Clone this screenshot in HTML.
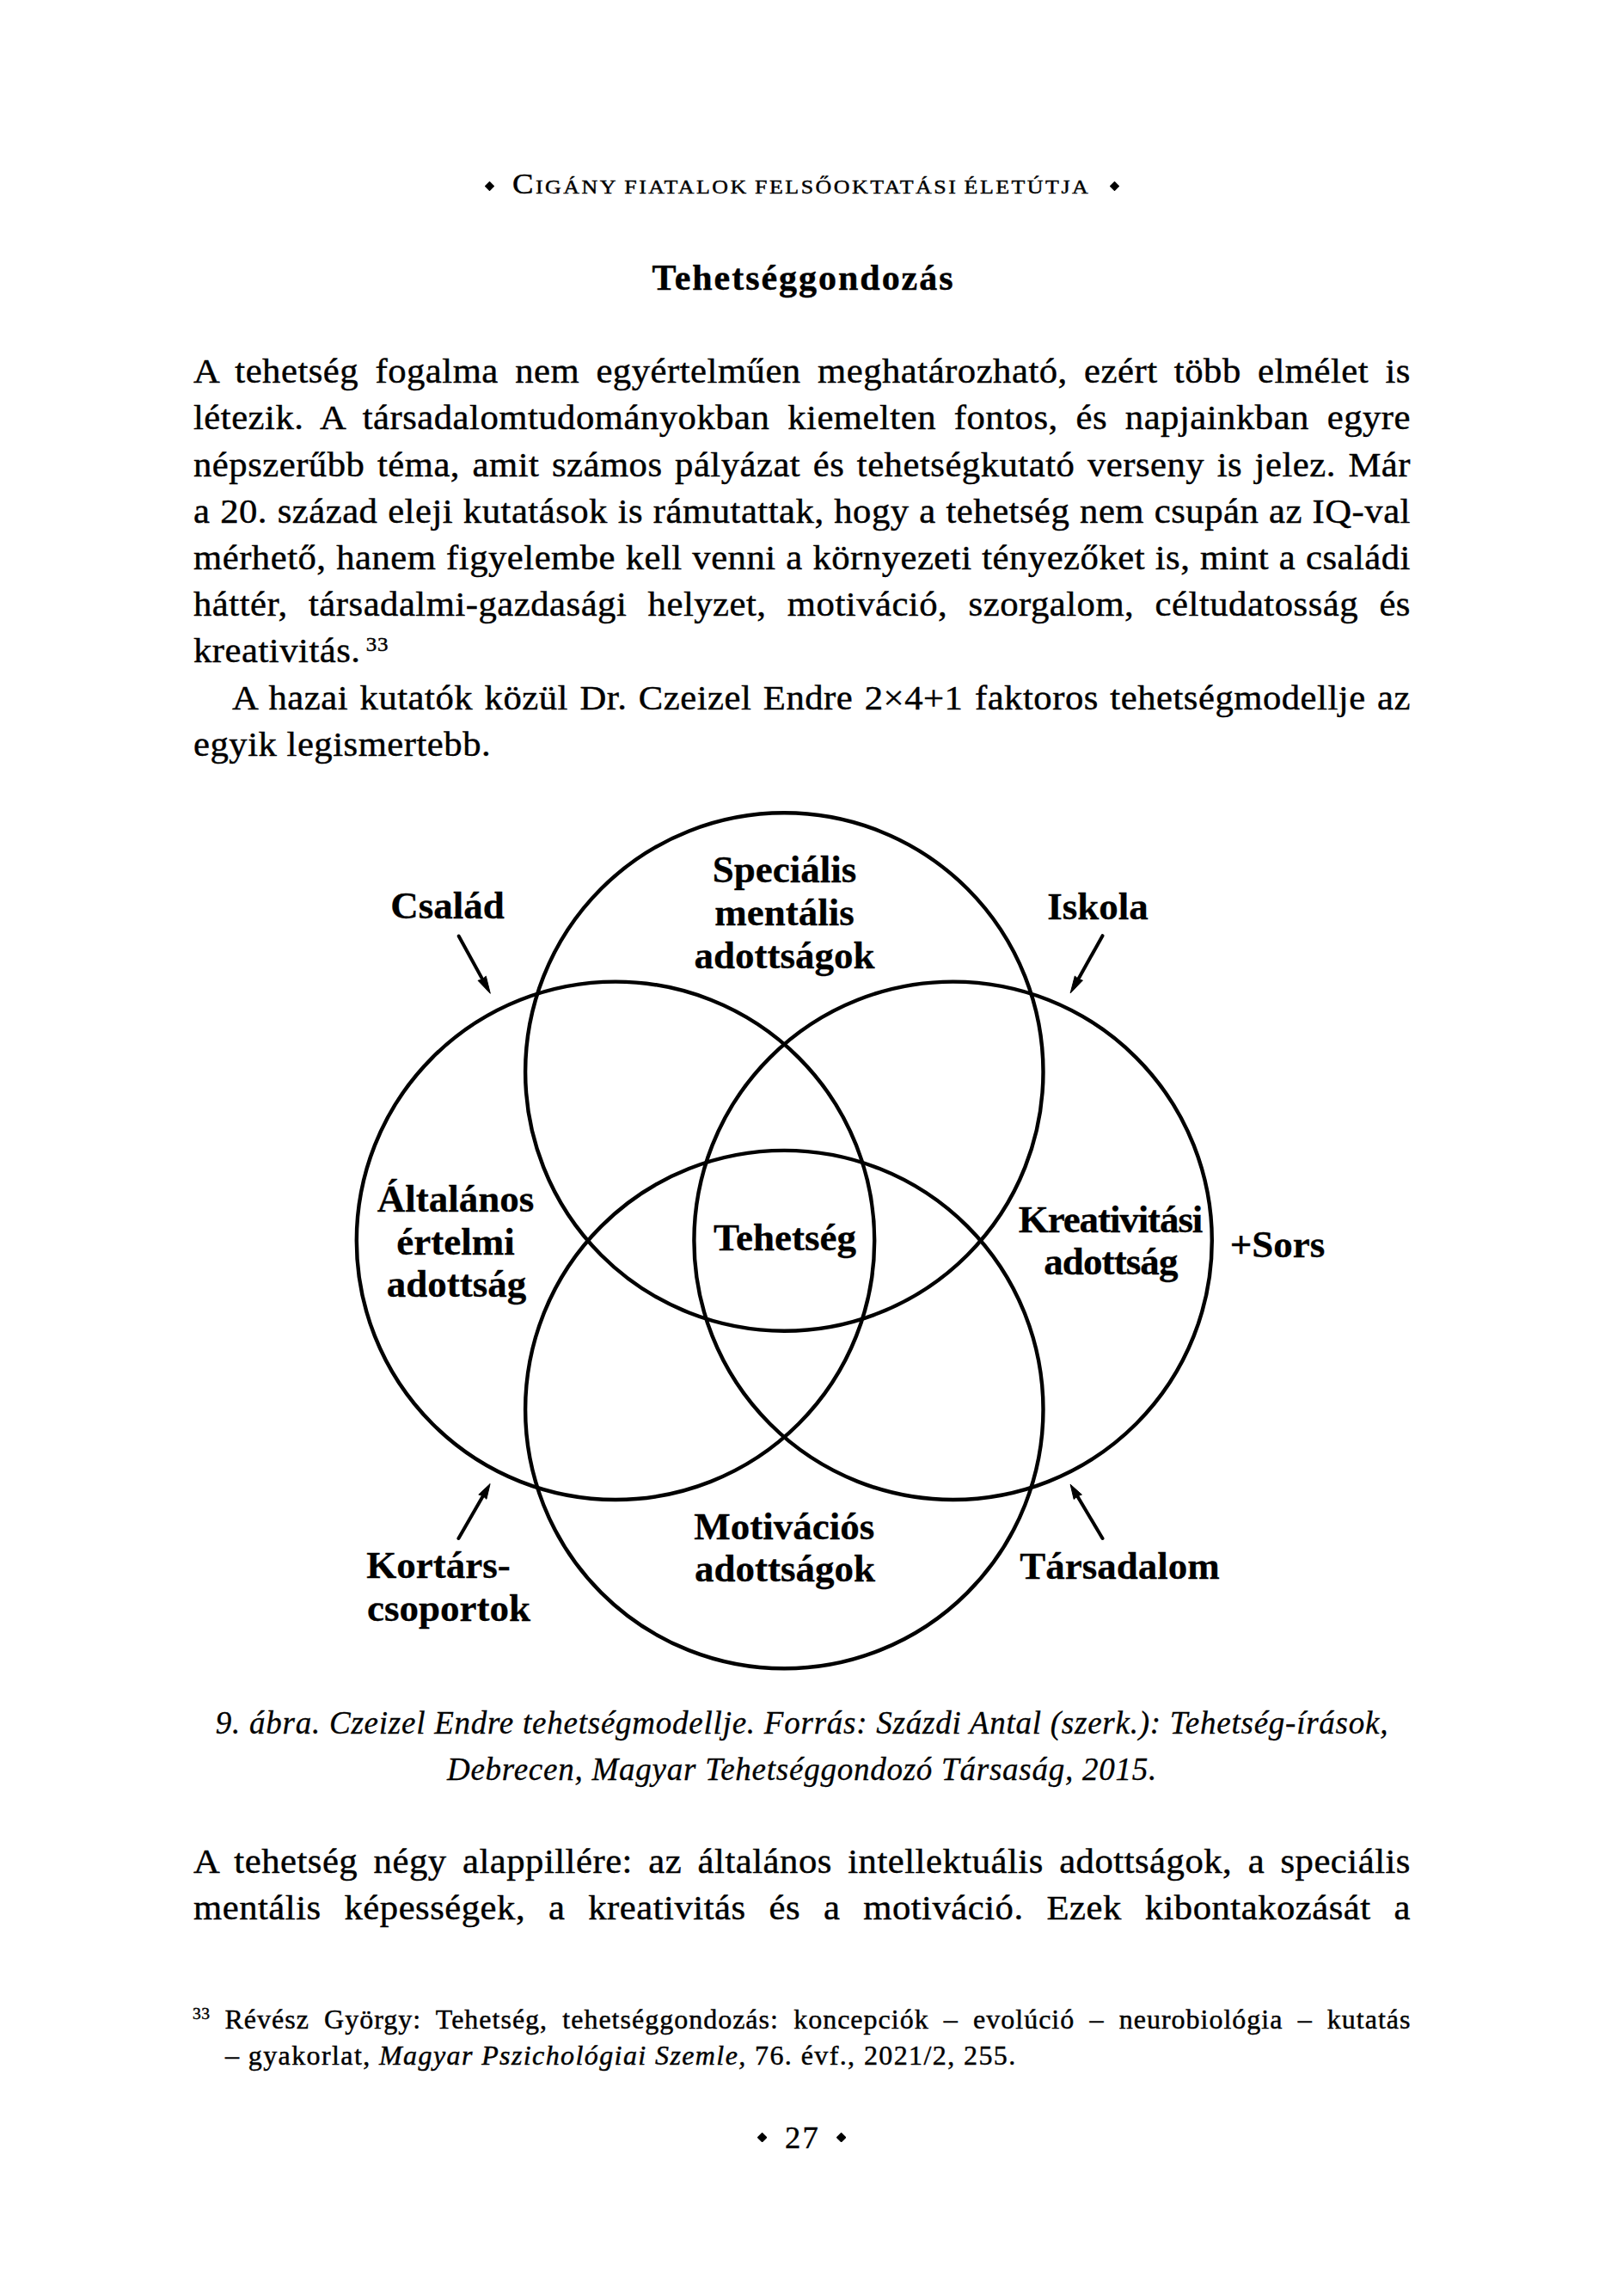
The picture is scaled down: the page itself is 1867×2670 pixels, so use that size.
<!DOCTYPE html>
<html><head><meta charset="utf-8"><title>page</title>
<style>
html,body{margin:0;padding:0;background:#fff;}
body{width:1867px;height:2670px;position:relative;overflow:hidden;font-family:"Liberation Serif",serif;color:#000;}
.s{position:absolute;line-height:0;font-family:"Liberation Serif",serif;-webkit-text-stroke:0.45px #000;}
.d{position:absolute;width:600px;text-align:center;line-height:0;font-family:"Liberation Serif",serif;font-weight:bold;font-size:45px;white-space:pre;color:#000;-webkit-text-stroke:0.3px #000;}
.dm{position:absolute;}
.dg{position:absolute;left:0;top:0;}
.sup{font-size:24px;position:relative;top:-13px;letter-spacing:0.8px;margin-left:6px;}
</style></head><body>
<svg class="dm" style="left:563.50px;top:211.00px" width="11.00" height="11.00" viewBox="-1 -1 2 2"><polygon points="0,-0.86 0.86,0 0,0.86 -0.86,0" fill="#000" stroke="#000" stroke-width="0.28" stroke-linejoin="round"/></svg>
<div class="s" style="left:596px;top:213.53px;font-size:34px;white-space:pre;letter-spacing:2.3px;font-variant:small-caps;word-spacing:-4px;transform-origin:0 0;transform:scaleX(1.08);">Cigány fiatalok felsőoktatási életútja</div>
<svg class="dm" style="left:1291.30px;top:210.90px" width="11.00" height="11.00" viewBox="-1 -1 2 2"><polygon points="0,-0.86 0.86,0 0,0.86 -0.86,0" fill="#000" stroke="#000" stroke-width="0.28" stroke-linejoin="round"/></svg>
<div class="s" style="left:758.5px;top:323.22px;font-size:42px;white-space:pre;letter-spacing:1.97px;font-weight:bold;">Tehetséggondozás</div>
<div class="s" style="left:225px;top:431.16px;font-size:41px;width:1361.54px;text-align:justify;text-align-last:justify;letter-spacing:0.5px;transform-origin:0 0;transform:scaleX(1.04);">A tehetség fogalma nem egyértelműen meghatározható, ezért több elmélet is</div>
<div class="s" style="left:225px;top:485.36px;font-size:41px;width:1361.54px;text-align:justify;text-align-last:justify;letter-spacing:0.5px;transform-origin:0 0;transform:scaleX(1.04);">létezik. A társadalomtudományokban kiemelten fontos, és napjainkban egyre</div>
<div class="s" style="left:225px;top:539.56px;font-size:41px;width:1361.54px;text-align:justify;text-align-last:justify;letter-spacing:0.5px;transform-origin:0 0;transform:scaleX(1.04);">népszerűbb téma, amit számos pályázat és tehetségkutató verseny is jelez. Már</div>
<div class="s" style="left:225px;top:593.76px;font-size:41px;width:1361.54px;text-align:justify;text-align-last:justify;letter-spacing:0.5px;transform-origin:0 0;transform:scaleX(1.04);">a 20. század eleji kutatások is rámutattak, hogy a tehetség nem csupán az IQ-val</div>
<div class="s" style="left:225px;top:647.96px;font-size:41px;width:1361.54px;text-align:justify;text-align-last:justify;letter-spacing:0.5px;transform-origin:0 0;transform:scaleX(1.04);">mérhető, hanem figyelembe kell venni a környezeti tényezőket is, mint a családi</div>
<div class="s" style="left:225px;top:702.16px;font-size:41px;width:1361.54px;text-align:justify;text-align-last:justify;letter-spacing:0.5px;transform-origin:0 0;transform:scaleX(1.04);">háttér, társadalmi-gazdasági helyzet, motiváció, szorgalom, céltudatosság és</div>
<div class="s" style="left:225px;top:756.36px;font-size:41px;white-space:pre;letter-spacing:0.5px;transform-origin:0 0;transform:scaleX(1.04);">kreativitás.<span class="sup">33</span></div>
<div class="s" style="left:270px;top:810.56px;font-size:41px;width:1318.27px;text-align:justify;text-align-last:justify;letter-spacing:0.5px;transform-origin:0 0;transform:scaleX(1.04);">A hazai kutatók közül Dr. Czeizel Endre 2×4+1 faktoros tehetségmodellje az</div>
<div class="s" style="left:225px;top:864.76px;font-size:41px;white-space:pre;letter-spacing:0.5px;transform-origin:0 0;transform:scaleX(1.04);">egyik legismertebb.</div>
<svg class="dg" width="1867" height="2670" viewBox="0 0 1867 2670">
<circle cx="912.3" cy="1246.5" r="301.2" fill="none" stroke="#000" stroke-width="4.4"/>
<circle cx="716.0" cy="1442.8" r="301.2" fill="none" stroke="#000" stroke-width="4.4"/>
<circle cx="1108.6" cy="1442.8" r="301.2" fill="none" stroke="#000" stroke-width="4.4"/>
<circle cx="912.3" cy="1639.1" r="301.2" fill="none" stroke="#000" stroke-width="4.4"/>
<line x1="533.6" y1="1088.5" x2="562.1" y2="1140.4" stroke="#000" stroke-width="4.0" stroke-linecap="round"/>
<polygon points="570.3,1155.3 556.0,1140.3 561.2,1138.8 565.3,1135.2" fill="#000" stroke="#000" stroke-width="1" stroke-linejoin="round"/>
<line x1="1282.5" y1="1088.2" x2="1253.4" y2="1140.2" stroke="#000" stroke-width="4.0" stroke-linecap="round"/>
<polygon points="1245.1,1155.0 1250.3,1135.0 1254.3,1138.6 1259.4,1140.1" fill="#000" stroke="#000" stroke-width="1" stroke-linejoin="round"/>
<line x1="533.4" y1="1789.0" x2="562.8" y2="1738.1" stroke="#000" stroke-width="4.0" stroke-linecap="round"/>
<polygon points="570.1,1725.5 565.9,1743.3 561.9,1739.6 556.8,1738.0" fill="#000" stroke="#000" stroke-width="1" stroke-linejoin="round"/>
<line x1="1282.5" y1="1789.0" x2="1252.3" y2="1738.2" stroke="#000" stroke-width="4.0" stroke-linecap="round"/>
<polygon points="1245.1,1726.2 1258.4,1738.1 1253.2,1739.8 1249.2,1743.5" fill="#000" stroke="#000" stroke-width="1" stroke-linejoin="round"/>
</svg>
<div class="d" style="left:220.5px;top:1053.01px;letter-spacing:0px;">Család</div>
<div class="d" style="left:977px;top:1053.51px;letter-spacing:0px;">Iskola</div>
<div class="d" style="left:612.5px;top:1010.91px;letter-spacing:0px;">Speciális</div>
<div class="d" style="left:612.5px;top:1061.11px;letter-spacing:0px;">mentális</div>
<div class="d" style="left:612.5px;top:1111.31px;letter-spacing:0px;">adottságok</div>
<div class="d" style="left:230px;top:1393.51px;letter-spacing:0px;">Általános</div>
<div class="d" style="left:230px;top:1443.51px;letter-spacing:0px;">értelmi</div>
<div class="d" style="left:231px;top:1492.91px;letter-spacing:0px;">adottság</div>
<div class="d" style="left:613px;top:1439.21px;letter-spacing:0px;">Tehetség</div>
<div class="d" style="left:991.5px;top:1417.61px;letter-spacing:-1.1px;">Kreativitási</div>
<div class="d" style="left:991.9000000000001px;top:1466.51px;letter-spacing:-0.9px;">adottság</div>
<div class="d" style="left:1186px;top:1446.91px;letter-spacing:0px;">+Sors</div>
<div class="d" style="left:612.3px;top:1775.31px;letter-spacing:0px;">Motivációs</div>
<div class="d" style="left:613px;top:1824.41px;letter-spacing:0px;">adottságok</div>
<div class="d" style="left:210px;top:1820.21px;letter-spacing:0px;">Kortárs-</div>
<div class="d" style="left:222px;top:1870.41px;letter-spacing:0px;">csoportok</div>
<div class="d" style="left:1002.5px;top:1820.91px;letter-spacing:0px;">Társadalom</div>
<div class="s" style="left:226px;top:2003.51px;font-size:37px;width:1414.00px;text-align:center;white-space:pre;letter-spacing:0.76px;font-style:italic;-webkit-text-stroke:0.3px #000;">9. ábra. Czeizel Endre tehetségmodellje. Forrás: Százdi Antal (szerk.): Tehetség-írások,</div>
<div class="s" style="left:226px;top:2057.51px;font-size:37px;width:1414.00px;text-align:center;white-space:pre;letter-spacing:0.76px;font-style:italic;-webkit-text-stroke:0.3px #000;">Debrecen, Magyar Tehetséggondozó Társaság, 2015.</div>
<div class="s" style="left:225px;top:2164.16px;font-size:41px;width:1361.54px;text-align:justify;text-align-last:justify;letter-spacing:0.5px;transform-origin:0 0;transform:scaleX(1.04);">A tehetség négy alappillére: az általános intellektuális adottságok, a speciális</div>
<div class="s" style="left:225px;top:2218.16px;font-size:41px;width:1361.54px;text-align:justify;text-align-last:justify;letter-spacing:0.5px;transform-origin:0 0;transform:scaleX(1.04);">mentális képességek, a kreativitás és a motiváció. Ezek kibontakozását a</div>
<div class="s" style="left:224px;top:2341.62px;font-size:19.5px;white-space:pre;letter-spacing:0.5px;">33</div>
<div class="s" style="left:261.5px;top:2347.80px;font-size:32px;width:1380.00px;text-align:justify;text-align-last:justify;letter-spacing:1.0px;">Révész György: Tehetség, tehetséggondozás: koncepciók – evolúció – neurobiológia – kutatás</div>
<div class="s" style="left:262px;top:2390.10px;font-size:32px;white-space:pre;letter-spacing:1.4px;">– gyakorlat, <i>Magyar Pszichológiai Szemle,</i> 76. évf., 2021/2, 255.</div>
<svg class="dm" style="left:881.20px;top:2479.70px" width="11.20" height="11.20" viewBox="-1 -1 2 2"><polygon points="0,-0.86 0.86,0 0,0.86 -0.86,0" fill="#000" stroke="#000" stroke-width="0.28" stroke-linejoin="round"/></svg>
<div class="s" style="left:913px;top:2486.48px;font-size:36.5px;white-space:pre;letter-spacing:2.2px;">27</div>
<svg class="dm" style="left:973.30px;top:2479.70px" width="11.20" height="11.20" viewBox="-1 -1 2 2"><polygon points="0,-0.86 0.86,0 0,0.86 -0.86,0" fill="#000" stroke="#000" stroke-width="0.28" stroke-linejoin="round"/></svg>
</body></html>
